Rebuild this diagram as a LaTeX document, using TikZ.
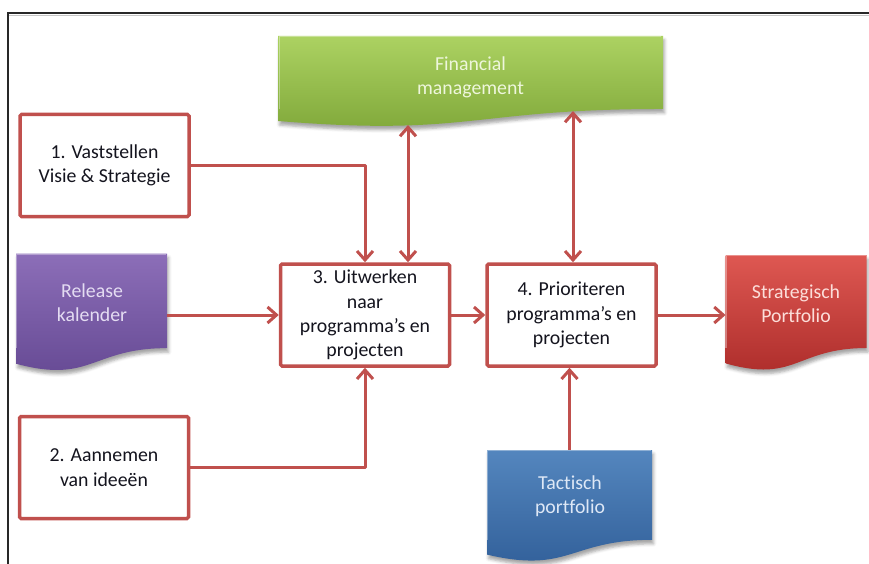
\documentclass[tikz,border=0pt]{standalone}
\usepackage{fontspec}
\setmainfont{Carlito}[Ligatures=NoCommon]
\usetikzlibrary{arrows.meta,shadows.blur}

\definecolor{linkred}{RGB}{192,80,77}
\definecolor{boxtext}{RGB}{20,20,30}
\definecolor{greentop}{RGB}{172,210,98}
\definecolor{greenbot}{RGB}{126,166,56}
\definecolor{greentxt}{RGB}{238,246,220}
\definecolor{purptop}{RGB}{140,110,184}
\definecolor{purpbot}{RGB}{100,72,146}
\definecolor{purptxt}{RGB}{228,220,242}
\definecolor{redtop}{RGB}{222,88,82}
\definecolor{redbot}{RGB}{170,42,40}
\definecolor{redtxt}{RGB}{252,222,218}
\definecolor{bluetop}{RGB}{84,134,190}
\definecolor{bluebot}{RGB}{48,94,152}
\definecolor{bluetxt}{RGB}{222,232,246}

\tikzset{
  stepbox/.style={draw=linkred, line width=3.5pt, fill=white, rounded corners=1.5pt,
    minimum width=169pt, minimum height=102pt, inner sep=0pt, align=center,
    text=boxtext, font=\fontsize{19.8}{24.3}\selectfont},
  doclabel/.style={align=center, inner sep=0pt, font=\fontsize{19.8}{24.3}\selectfont},
  docframe/.style={inner sep=0pt, outer sep=0pt},
  link/.style={draw=linkred, line width=3pt, line join=round,
    -{Straight Barb[length=9pt,width=16pt]}},
  duallink/.style={draw=linkred, line width=3pt,
    {Straight Barb[length=9pt,width=16pt]}-{Straight Barb[length=9pt,width=16pt]}},
  docfill/.style 2 args={top color=#1, bottom color=#2,
    blur shadow={shadow xshift=1.5pt, shadow yshift=-4pt, shadow blur radius=3pt, shadow opacity=35}},
}

% Flowchart "document" shape with a wavy lower edge.
% #1 name, #2 left, #3 top, #4 width, #5 height, #6 top colour, #7 bottom colour
\newcommand{\docshape}[7]{%
  \node[docframe, minimum width=#4pt, minimum height=#5pt, anchor=north west] (#1) at (#2,#3) {};
  \begin{scope}[shift={(#2,#3)}, x=#4pt, y=-#5pt]
    \path[docfill={#6}{#7}] (0,0) -- (1,0) -- (1,0.802)
      .. controls (0.5,0.802) and (0.5,1.107) .. (0,0.934) -- cycle;
    \draw[white, opacity=0.35, line width=1.2pt] (0.004,0.8) -- (0.004,0.006) -- (0.996,0.006);
  \end{scope}}

\begin{document}
\begin{tikzpicture}[x=1pt, y=-1pt]
  \useasboundingbox (0,0) rectangle (869,564);

  % outer frame
  \draw[draw={rgb,255:red,40;green,40;blue,40}, line width=1.6pt] (8,564) -- (8,13.3) -- (869,13.3);
  \draw[gray!45, line width=0.9pt] (9,15) -- (869,15);

  % document shapes
  \docshape{fin}{278}{36}{385}{91}{greentop}{greenbot}
  \docshape{rel}{16}{253.5}{151}{118}{purptop}{purpbot}
  \docshape{strat}{725.5}{255}{141}{116}{redtop}{redbot}
  \docshape{tac}{487}{450}{165}{112}{bluetop}{bluebot}

  \node[doclabel, text=greentxt] (fin-t) at (470.5,77) {Financial\\management};
  \node[doclabel, text=purptxt] (rel-t) at (92,303) {Release\\kalender};
  \node[doclabel, text=redtxt] (strat-t) at (796,304) {Strategisch\\Portfolio};
  \node[doclabel, text=bluetxt] (tac-t) at (570,496) {Tactisch\\portfolio};

  % process boxes
  \node[stepbox] (b1) at (104.5,165.5) {1. Vaststellen\\Visie \& Strategie};
  \node[stepbox] (b2) at (104,467.5) {2. Aannemen\\van ideeën};
  \node[stepbox] (b3) at (365,315) {3. Uitwerken\\naar\\programma’s en\\projecten};
  \node[stepbox] (b4) at (571.5,315) {4. Prioriteren\\programma’s en\\projecten};

  % points on the wavy lower edge of the financial shape
  \coordinate (finA) at (408,125);
  \coordinate (finB) at (573,111);

  % connectors
  \draw[link] (b1.east) -| (b3.north);
  \draw[link] (b2.east) -| (b3.south);
  \draw[link] (rel.east |- b3.west) -- (b3.west);
  \draw[link] (b3.east) -- (b4.west);
  \draw[link] (b4.east) -- (b4.east -| strat.west);
  \draw[link] (tac.north) -- (tac.north |- b4.south);
  \draw[duallink] (finA) -- (finA |- b3.north);
  \draw[duallink] (finB) -- (finB |- b4.north);
\end{tikzpicture}
\end{document}
